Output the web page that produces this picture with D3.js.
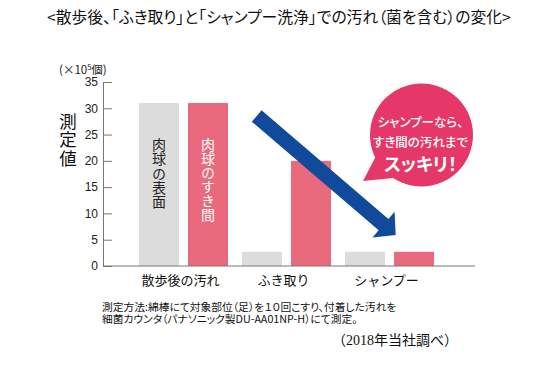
<!DOCTYPE html>
<html>
<head>
<meta charset="utf-8">
<script src="https://cdn.jsdelivr.net/npm/d3@7"></script>
<style>
  body { margin: 0; background: #fff; }
  svg { display: block; font-family: "Noto Sans CJK JP", sans-serif; }
  .palt { font-feature-settings: "palt"; }
  .vert { writing-mode: vertical-rl; text-orientation: upright; }
</style>
</head>
<body>
<svg id="chart" width="541" height="377"></svg>
<script>
const categories = ["散歩後の汚れ", "ふき取り", "シャンプー"];
const seriesNames = ["肉球の表面", "肉球のすき間"];
const surfaceValues = [31, 2.7, 2.7];
const gapValues = [31, 20, 2.7];
const yTicks = [0, 5, 10, 15, 20, 25, 30, 35];
const bubbleLines = ["シャンプーなら、", "すき間の汚れまで", "スッキリ！"];
const footLines = ["測定方法:綿棒にて対象部位（足）を１０回こすり、付着した汚れを", "細菌カウンタ（パナソニック製DU-AA01NP-H）にて測定。"];

const colors = { "肉球の表面": "#dcdcdc", "肉球のすき間": "#e96a7c" };
const labelColors = { "肉球の表面": "#222", "肉球のすき間": "#fff" };

const svg = d3.select("#chart");

const y = d3.scaleLinear().domain([0, 35]).range([266, 82]);
const x0 = d3.scaleBand().domain(categories).range([132, 441]);
const x1 = d3.scaleBand().domain(seriesNames).range([7, 96]).paddingInner(0.184);

const rows = categories.map((c, i) => ({
  cat: c,
  vals: [
    { key: seriesNames[0], v: surfaceValues[i] },
    { key: seriesNames[1], v: gapValues[i] }
  ]
}));

// title
svg.append("text")
  .attr("class", "palt")
  .attr("x", 47).attr("y", 23)
  .attr("font-size", 15.8)
  .attr("fill", "#111")
  .text("<散歩後、「ふき取り」と「シャンプー洗浄」での汚れ（菌を含む）の変化>");

// bars
const g = svg.append("g");
const groups = g.selectAll(".grp").data(rows).join("g")
  .attr("transform", d => `translate(${x0(d.cat)},0)`);

groups.selectAll("rect").data(d => d.vals).join("rect")
  .attr("x", d => x1(d.key))
  .attr("width", x1.bandwidth())
  .attr("y", d => y(d.v))
  .attr("height", d => y(0) - y(d.v))
  .attr("fill", d => colors[d.key]);

// vertical labels inside the first group's bars
const first = rows[0];
g.selectAll(".bl").data(first.vals).join("text")
  .attr("class", "bl vert")
  .attr("x", d => x0(first.cat) + x1(d.key) + x1.bandwidth() / 2)
  .attr("y", 137.5)
  .attr("font-size", 14)
  .attr("letter-spacing", (d, i) => i === 0 ? 0.4 : 0)
  .attr("fill", d => labelColors[d.key])
  .text(d => d.key);

// y axis
const yAxis = d3.axisLeft(y)
  .tickValues(yTicks)
  .tickSizeInner(-9)
  .tickSizeOuter(0)
  .tickPadding(5);

const ya = svg.append("g").attr("transform", "translate(103,0)").call(yAxis);
ya.selectAll("text")
  .attr("font-family", "'Liberation Sans', Arial, sans-serif")
  .attr("font-size", 12)
  .attr("fill", "#222");
ya.selectAll("line").attr("stroke", "#777");
ya.select(".domain").attr("stroke", "#777");

// x axis line
svg.append("line")
  .attr("x1", 103).attr("x2", 475)
  .attr("y1", y(0)).attr("y2", y(0))
  .attr("stroke", "#777");

// x labels
svg.selectAll(".xl").data(categories).join("text")
  .attr("class", "xl")
  .attr("x", d => x0(d) + x0.bandwidth() / 2 - 3)
  .attr("y", 285)
  .attr("text-anchor", "middle")
  .attr("font-size", 13)
  .attr("fill", "#111")
  .text(d => d);

// unit label
const unit = svg.append("text")
  .attr("x", 59).attr("y", 74)
  .attr("font-size", 11.5)
  .attr("fill", "#222");
unit.append("tspan").text("(×10");
unit.append("tspan").attr("font-size", 7.5).attr("dy", -4).text("5");
unit.append("tspan").attr("dy", 4).text("個)");

// 測定値 vertical
svg.append("text")
  .attr("class", "vert")
  .attr("x", 68)
  .attr("y", 112.5)
  .attr("font-size", 17.5)
  .attr("letter-spacing", 1)
  .attr("fill", "#111")
  .text("測定値");

// arrow
const ax0 = 256.7, ay0 = 116, ax1 = 395.7, ay1 = 235;
const len = Math.hypot(ax1 - ax0, ay1 - ay0);
const ang = Math.atan2(ay1 - ay0, ax1 - ax0) * 180 / Math.PI;
const sw = 7.5, hw = 17, hl = 16;
svg.append("path")
  .attr("transform", `translate(${ax0},${ay0}) rotate(${ang})`)
  .attr("d", `M0,${-sw} L${len - hl},${-sw} L${len - hl},${-hw} L${len},0 L${len - hl},${hw} L${len - hl},${sw} L0,${sw} Z`)
  .attr("fill", "#114a9b");

// bubble
const bx = 421.5, by = 135, br = 51.5;
svg.append("path")
  .attr("d", `M${bx - 46},${by + 22} L${363},${181} L${bx - 28},${by + 43} Z`)
  .attr("fill", "#e53868");
svg.append("circle")
  .attr("cx", bx).attr("cy", by).attr("r", br)
  .attr("fill", "#e53868");

svg.selectAll(".bt").data(bubbleLines).join("text")
  .attr("class", "bt palt")
  .attr("x", bx - 1)
  .attr("y", (d, i) => [127, 147, 171][i])
  .attr("text-anchor", "middle")
  .attr("font-size", (d, i) => i === 2 ? 18 : 12.5)
  .attr("font-weight", (d, i) => i === 2 ? 700 : 500)
  .attr("fill", "#fff")
  .text(d => d);

// footnote
svg.selectAll(".fn").data(footLines).join("text")
  .attr("class", "fn palt")
  .attr("x", 102)
  .attr("y", (d, i) => 310.5 + i * 12.5)
  .attr("font-size", 10.75)
  .attr("fill", "#111")
  .text(d => d);

svg.append("text")
  .attr("x", 458).attr("y", 345)
  .attr("text-anchor", "end")
  .attr("font-size", 14)
  .attr("font-family", "'Liberation Serif', 'Noto Sans CJK JP', serif")
  .attr("fill", "#111")
  .text("（2018年当社調べ）");
</script>
</body>
</html>
